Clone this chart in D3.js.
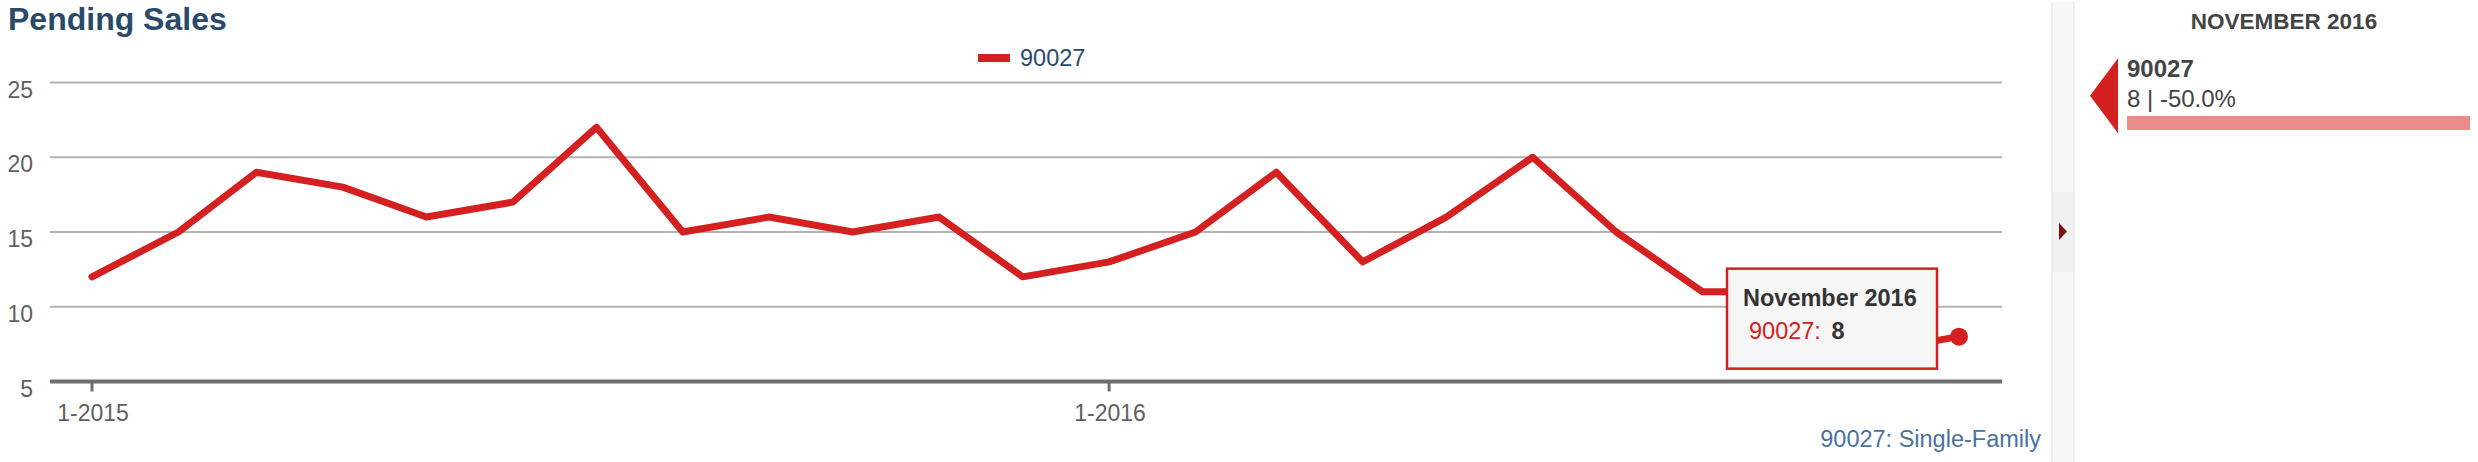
<!DOCTYPE html>
<html>
<head>
<meta charset="utf-8">
<script src="https://cdn.jsdelivr.net/npm/d3@7"></script>
<style>
  html, body { margin: 0; padding: 0; background: #fff; }
  svg { display: block; font-family: "Liberation Sans", Arial, Helvetica, sans-serif; }
</style>
</head>
<body>
<svg id="chart" width="2478" height="462"></svg>
<script>
// ---- data ----
const chartTitle = "Pending Sales";
const seriesName = "90027";
const months = ["2015-01","2015-02","2015-03","2015-04","2015-05","2015-06","2015-07","2015-08","2015-09","2015-10","2015-11","2015-12",
                "2016-01","2016-02","2016-03","2016-04","2016-05","2016-06","2016-07","2016-08","2016-09","2016-10","2016-11"];
const values = [12,15,19,18,16,17,22,15,16,15,16,12,13,15,19,13,16,20,15,11,11,7,8];
const yTicks = [5,10,15,20,25];
const xTickMonths = ["2015-01","2016-01"];
const xTickLabels = ["1-2015","1-2016"];
const tooltipTitle = "November 2016";
const panelTitle = "NOVEMBER 2016";
const panelValueText = "8 | -50.0%";
const creditText = "90027: Single-Family";

// ---- setup ----
const svg = d3.select("#chart");
const parse = d3.timeParse("%Y-%m");
const data = months.map((m, i) => ({ date: parse(m), value: values[i] }));

const RED = "#d42020";
const x = d3.scaleTime()
  .domain([parse(months[0]), parse(months[months.length - 1])])
  .range([92, 1959]);
const y = d3.scaleLinear().domain([5, 25]).range([381.5, 82.5]);
const plotLeft = 50, plotRight = 2002;

// title
svg.append("text").attr("x", 8).attr("y", 30)
  .attr("font-size", 32).attr("font-weight", "bold").attr("fill", "#2a4a6c")
  .text(chartTitle);

// legend
svg.append("rect").attr("x", 978).attr("y", 54).attr("width", 32).attr("height", 8).attr("fill", RED);
svg.append("text").attr("x", 1020).attr("y", 66).attr("font-size", 23.5).attr("fill", "#2a4a6c").text(seriesName);

// grid
const grid = svg.append("g");
grid.selectAll("line").data(yTicks.filter(t => t !== 5)).join("line")
  .attr("x1", plotLeft).attr("x2", plotRight)
  .attr("y1", d => y(d)).attr("y2", d => y(d))
  .attr("stroke", "#b3b3b3").attr("stroke-width", 2);

// y labels
svg.append("g").selectAll("text").data(yTicks).join("text")
  .attr("x", 33).attr("y", d => y(d) + 15)
  .attr("text-anchor", "end").attr("font-size", 23).attr("fill", "#606060")
  .text(d => d);

// x axis line
svg.append("line").attr("x1", plotLeft).attr("x2", plotRight)
  .attr("y1", y(5)).attr("y2", y(5))
  .attr("stroke", "#6e6e6e").attr("stroke-width", 4);

// x ticks
const xt = svg.append("g");
xt.selectAll("line").data(xTickMonths).join("line")
  .attr("x1", d => x(parse(d))).attr("x2", d => x(parse(d)))
  .attr("y1", y(5)).attr("y2", y(5) + 10)
  .attr("stroke", "#6e6e6e").attr("stroke-width", 3);
xt.selectAll("text").data(xTickMonths).join("text")
  .attr("x", d => x(parse(d)) + 1).attr("y", 421)
  .attr("text-anchor", "middle").attr("font-size", 23).attr("fill", "#606060")
  .text((d, i) => xTickLabels[i]);

// line
const line = d3.line().x(d => x(d.date)).y(d => y(d.value));
svg.append("path").datum(data)
  .attr("d", line).attr("fill", "none")
  .attr("stroke", RED).attr("stroke-width", 7)
  .attr("stroke-linejoin", "round").attr("stroke-linecap", "round");

// highlighted last point
const last = data[data.length - 1];
const px = x(last.date), py = y(last.value);
svg.append("circle").attr("cx", px).attr("cy", py).attr("r", 9).attr("fill", RED);

// tooltip
const tw = 210, th = 100;
const tx = px - 22 - tw, ty = py - 68;
const tip = svg.append("g");
tip.append("rect").attr("x", tx).attr("y", ty).attr("width", tw).attr("height", th)
  .attr("fill", "#f6f6f6").attr("stroke", RED).attr("stroke-width", 2.5);
tip.append("text").attr("x", tx + 16).attr("y", ty + 37)
  .attr("font-size", 23.5).attr("font-weight", "bold").attr("fill", "#333").text(tooltipTitle);
const t2 = tip.append("text").attr("x", tx + 22).attr("y", ty + 70).attr("font-size", 23.5);
t2.append("tspan").attr("fill", RED).text(seriesName + ": ");
t2.append("tspan").attr("font-weight", "bold").attr("fill", "#333").attr("dx", 4).text(last.value);

// credits
svg.append("text").attr("x", 2041).attr("y", 447).attr("text-anchor", "end")
  .attr("font-size", 23.5).attr("fill", "#4a72a0").text(creditText);

// right side collapse stripe
svg.append("rect").attr("x", 2052).attr("y", 2).attr("width", 23).attr("height", 460)
  .attr("fill", "#f8f8f8");
svg.append("line").attr("x1", 2052).attr("x2", 2052).attr("y1", 2).attr("y2", 462).attr("stroke", "#eeeeee").attr("stroke-width", 2);
svg.append("line").attr("x1", 2074).attr("x2", 2074).attr("y1", 2).attr("y2", 462).attr("stroke", "#eeeeee").attr("stroke-width", 2);
svg.append("rect").attr("x", 2053).attr("y", 192).attr("width", 20).attr("height", 80).attr("fill", "#f0f0f0");
svg.append("path").attr("d", "M2059,223 L2067,231.5 L2059,240 Z").attr("fill", "#7a1212");

// right panel
svg.append("text").attr("x", 2284).attr("y", 29).attr("text-anchor", "middle")
  .attr("font-size", 22.5).attr("font-weight", "bold").attr("fill", "#444").text(panelTitle);
svg.append("path").attr("d", "M2090,95.7 L2118,58.3 L2118,133.3 Z").attr("fill", RED);
svg.append("text").attr("x", 2127).attr("y", 77).attr("font-size", 24).attr("font-weight", "bold")
  .attr("fill", "#444").text(seriesName);
svg.append("text").attr("x", 2127).attr("y", 107).attr("font-size", 24)
  .attr("fill", "#444").text(panelValueText);
svg.append("rect").attr("x", 2127).attr("y", 116).attr("width", 343).attr("height", 14).attr("fill", "#e88c8c");
</script>
</body>
</html>
